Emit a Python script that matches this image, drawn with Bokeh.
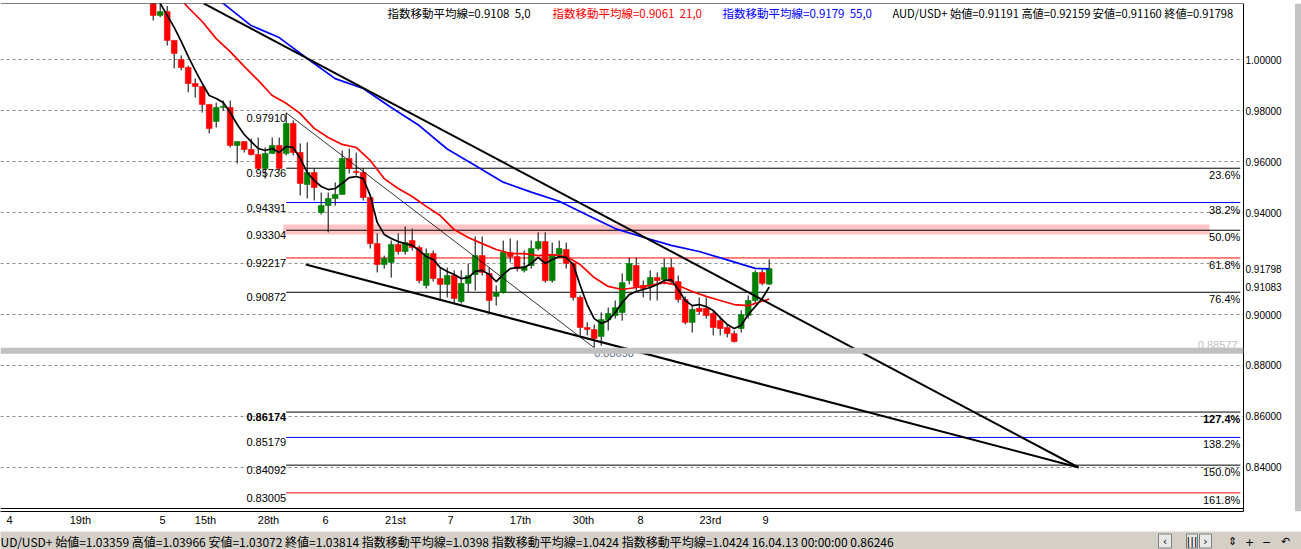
from bokeh.plotting import figure
from bokeh.models import Range1d, FixedTicker, Span, Label, ColumnDataSource, NumeralTickFormatter
from bokeh.layouts import column, row
from bokeh.embed import file_html
from bokeh.resources import INLINE
from bokeh.core.properties import value

# ---------------- data ----------------
slots = list(range(89))
opens = [1.0230, 1.0173, 1.0188, 1.0075, 1.0000, 0.9969, 0.9906, 0.9894, 0.9824, 0.9757,
         0.9812, 0.9812, 0.9663, 0.9678, 0.9647, 0.9627, 0.9573, 0.9631, 0.9663, 0.9631,
         0.9749, 0.9635, 0.9510, 0.9557, 0.9400, 0.9427, 0.9455, 0.9471, 0.9612, 0.9561,
         0.9557, 0.9459, 0.9278, 0.9196, 0.9204, 0.9275, 0.9247, 0.9290, 0.9263, 0.9114,
         0.9239, 0.9141, 0.9118, 0.9153, 0.9051, 0.9122, 0.9157, 0.9231, 0.9161, 0.9071,
         0.9086, 0.9243, 0.9227, 0.9173, 0.9192, 0.9259, 0.9286, 0.9133, 0.9235, 0.9255,
         0.9200, 0.9067, 0.8949, 0.8941, 0.8914, 0.8980, 0.8996, 0.9008, 0.9133, 0.9192,
         0.9114, 0.9110, 0.9145, 0.9137, 0.9184, 0.9129, 0.9059, 0.8969, 0.9024, 0.9024,
         0.9004, 0.8976, 0.8949, 0.8925, 0.8945, 0.8996, 0.9055, 0.9165, 0.91191]
highs = [1.0260, 1.0240, 1.0210, 1.0075, 1.0016, 0.9976, 0.9926, 0.9894, 0.9824, 0.9831,
         0.9839, 0.9839, 0.9678, 0.9678, 0.9690, 0.9694, 0.9655, 0.9694, 0.9694, 0.9791,
         0.9761, 0.9671, 0.9675, 0.9573, 0.9478, 0.9478, 0.9518, 0.9643, 0.9651, 0.9635,
         0.9573, 0.9459, 0.9318, 0.9231, 0.9290, 0.9318, 0.9345, 0.9337, 0.9271, 0.9259,
         0.9251, 0.9184, 0.9184, 0.9173, 0.9173, 0.9200, 0.9306, 0.9306, 0.9184, 0.9114,
         0.9290, 0.9298, 0.9290, 0.9251, 0.9290, 0.9322, 0.9322, 0.9282, 0.9290, 0.9282,
         0.9204, 0.9075, 0.8969, 0.8961, 0.9008, 0.9027, 0.9055, 0.9161, 0.9223, 0.9223,
         0.9133, 0.9173, 0.9165, 0.9220, 0.9220, 0.9153, 0.9071, 0.9035, 0.9067, 0.9067,
         0.9016, 0.8992, 0.8961, 0.8937, 0.9016, 0.9075, 0.9173, 0.9180, 0.92159]
lows = [1.0153, 1.0166, 1.0055, 0.9965, 0.9957, 0.9871, 0.9851, 0.9792, 0.9710, 0.9733,
        0.9800, 0.9655, 0.9592, 0.9635, 0.9624, 0.9565, 0.9533, 0.9631, 0.9565, 0.9624,
        0.9624, 0.9467, 0.9455, 0.9447, 0.9392, 0.9322, 0.9427, 0.9471, 0.9553, 0.9545,
        0.9447, 0.9259, 0.9165, 0.9180, 0.9145, 0.9235, 0.9235, 0.9251, 0.9122, 0.9102,
        0.9129, 0.9055, 0.9067, 0.9043, 0.9043, 0.9086, 0.9094, 0.9153, 0.9004, 0.9035,
        0.9082, 0.9204, 0.9169, 0.9165, 0.9180, 0.9251, 0.9125, 0.9125, 0.9227, 0.9180,
        0.9055, 0.8918, 0.8918, 0.88698, 0.8878, 0.8937, 0.8984, 0.8976, 0.9118, 0.9094,
        0.9067, 0.9055, 0.9055, 0.9118, 0.9118, 0.9047, 0.8961, 0.8929, 0.9000, 0.8984,
        0.8918, 0.8918, 0.8910, 0.8890, 0.8929, 0.8984, 0.9043, 0.9114, 0.91160]
closes = [1.0173, 1.0188, 1.0075, 1.0024, 0.9969, 0.9906, 0.9894, 0.9824, 0.9729, 0.9812,
          0.9816, 0.9663, 0.9678, 0.9647, 0.9627, 0.9573, 0.9631, 0.9663, 0.9573, 0.9749,
          0.9635, 0.9514, 0.9557, 0.9498, 0.9427, 0.9455, 0.9471, 0.9612, 0.9573, 0.9557,
          0.9459, 0.9278, 0.9196, 0.9220, 0.9275, 0.9247, 0.9282, 0.9263, 0.9133, 0.9239,
          0.9141, 0.9118, 0.9153, 0.9063, 0.9122, 0.9153, 0.9231, 0.9165, 0.9055, 0.9086,
          0.9243, 0.9227, 0.9180, 0.9188, 0.9259, 0.9286, 0.9133, 0.9235, 0.9259, 0.9200,
          0.9067, 0.8949, 0.8941, 0.8906, 0.8980, 0.9004, 0.9027, 0.9125, 0.9200, 0.9110,
          0.9102, 0.9145, 0.9133, 0.9184, 0.9129, 0.9059, 0.8969, 0.9020, 0.9012, 0.8996,
          0.8949, 0.8945, 0.8925, 0.8894, 0.9000, 0.9055, 0.9165, 0.9122, 0.91798]

ema5_slots = list(range(1, 89))
ema5 = [1.0220, 1.0173, 1.0126, 1.0071, 1.0012, 0.9957, 0.9906, 0.9859, 0.9847, 0.9831,
        0.9792, 0.9745, 0.9706, 0.9678, 0.9651, 0.9643, 0.9651, 0.9635, 0.9659, 0.9655,
        0.9612, 0.9557, 0.9526, 0.9502, 0.9490, 0.9494, 0.9514, 0.9537, 0.9541, 0.9533,
        0.9467, 0.9361, 0.9314, 0.9298, 0.9286, 0.9278, 0.9271, 0.9251, 0.9227, 0.9216,
        0.9184, 0.9169, 0.9157, 0.9141, 0.9145, 0.9169, 0.9173, 0.9157, 0.9129, 0.9157,
        0.9180, 0.9184, 0.9184, 0.9200, 0.9224, 0.9200, 0.9216, 0.9227, 0.9224, 0.9196,
        0.9114, 0.9039, 0.8984, 0.8965, 0.8976, 0.9008, 0.9047, 0.9078, 0.9090, 0.9098,
        0.9106, 0.9118, 0.9133, 0.9137, 0.9098, 0.9055, 0.9035, 0.9039, 0.9031, 0.9016,
        0.8988, 0.8961, 0.8945, 0.8957, 0.9000, 0.9031, 0.9063, 0.9108]

ema21_slots = [4, 5, 7, 9, 11, 13, 15, 17, 19, 21, 23, 25, 27, 29, 31, 33, 35, 37, 39, 41, 43,
               45, 47, 49, 51, 53, 55, 57, 59, 61, 63, 65, 67, 69, 71, 73, 75, 77, 79, 81, 83,
               85, 86, 88]
ema21 = [1.0235, 1.0204, 1.0149, 1.0082, 1.0031, 0.9973, 0.9918, 0.9859, 0.9828, 0.9788,
         0.9730, 0.9694, 0.9667, 0.9655, 0.9604, 0.9533, 0.9494, 0.9463, 0.9424, 0.9388,
         0.9333, 0.9302, 0.9278, 0.9255, 0.9239, 0.9239, 0.9231, 0.9235, 0.9227, 0.9196,
         0.9145, 0.9110, 0.9098, 0.9106, 0.9114, 0.9125, 0.9114, 0.9090, 0.9071, 0.9055,
         0.9039, 0.9035, 0.9043, 0.9061]

ema55_slots = [9, 10, 14, 18, 22, 26, 30, 34, 38, 42, 46, 50, 54, 58, 62, 66, 70, 74, 78, 82, 86, 88]
ema55 = [1.0235, 1.0220, 1.0133, 1.0086, 1.0004, 0.9925, 0.9886, 0.9812, 0.9741, 0.9649,
         0.9584, 0.9519, 0.9480, 0.9444, 0.9390, 0.9337, 0.9303, 0.9271, 0.9247, 0.9214,
         0.9181, 0.9179]

trend_upper_x = [7.2, 132.2]
trend_upper_y = [1.0220, 0.8400]
trend_lower_x = [21.8, 132.2]
trend_lower_y = [0.9196, 0.8400]

fib_anchor_x = [19, 63]
fib_anchor_y = [0.97910, 0.88698]
fib_end_x = 155.3
fib_values = [0.95736, 0.94391, 0.93304, 0.92217, 0.90872, 0.86174, 0.85179, 0.84092, 0.83005]
fib_pcts = ["23.6%", "38.2%", "50.0%", "61.8%", "76.4%", "127.4%", "138.2%", "150.0%", "161.8%"]

zone_x = [18.6, 150.9]
zone_y = [0.9314, 0.9353]
support_level = 0.88577
ema5_last = 0.91083

price_ticks = [0.84, 0.86, 0.88, 0.90, 0.92, 0.94, 0.96, 0.98, 1.00]
date_tick_pos = [-20.53, -10.39, 1.33, 7.47, 16.47, 24.61, 34.61, 42.47, 52.47, 61.47, 69.61, 79.61, 87.47]
date_tick_labels = ["4", "19th", "5", "15th", "28th", "6", "21st", "7", "17th", "30th", "8", "23rd", "9"]

header_texts = ["指数移動平均線=0.9108 \u00a05,0", "指数移動平均線=0.9061 \u00a021,0",
                "指数移動平均線=0.9179 \u00a055,0",
                "AUD/USD+ 始値=0.91191 高値=0.92159 安値=0.91160 終値=0.91798"]
status_text = ("UD/USD+ 始値=1.03359 高値=1.03966 安値=1.03072 終値=1.03814 "
               "指数移動平均線=1.0398 指数移動平均線=1.0424 指数移動平均線=1.0424 "
               "16.04.13 00:00:00 0.86246")

# ---------------- styles ----------------
UP, DOWN = "#008000", "#ff0000"
fib_colors = ["black", "#0000ff", "black", "#ff0000", "black", "black", "#0000ff", "black", "#ff0000"]
fib_styles = ["normal"] * 5 + ["bold"] + ["normal"] * 3
NUMF = "Liberation Sans"
CJKF = "Noto Sans CJK JP"

X0, X1 = -21.814, 155.757
Y0, Y1 = 0.822745, 1.021961
PX = (Y1 - Y0) / 508.0

p = figure(width=1293, height=531, x_range=Range1d(X0, X1), y_range=Range1d(Y0, Y1),
           output_backend="svg", toolbar_location=None, y_axis_location="right",
           min_border_left=0, min_border_right=50, min_border_top=3, min_border_bottom=20,
           background_fill_color="white", border_fill_color="white", outline_line_color=None)

axis_ticks = price_ticks + [closes[-1], ema5_last]
p.yaxis.ticker = FixedTicker(ticks=axis_ticks)
p.yaxis.formatter = NumeralTickFormatter(format="0.00000")
p.yaxis.major_label_overrides = {0.92: ""}
p.yaxis.major_tick_in = 0
p.yaxis.major_tick_out = 0
p.yaxis.minor_tick_in = 0
p.yaxis.minor_tick_out = 0
p.yaxis.axis_line_color = "black"
p.yaxis.major_label_standoff = 2
p.yaxis.major_label_text_font = NUMF
p.yaxis.major_label_text_font_size = "10px"
p.yaxis.major_label_text_color = "black"

p.xaxis.ticker = FixedTicker(ticks=date_tick_pos)
p.xaxis.major_label_overrides = dict(zip(date_tick_pos, date_tick_labels))
p.xaxis.major_tick_in = 0
p.xaxis.major_tick_out = 0
p.xaxis.minor_tick_in = 0
p.xaxis.minor_tick_out = 0
p.xaxis.axis_line_color = "black"
p.xaxis.major_label_standoff = 2
p.xaxis.major_label_text_font = NUMF
p.xaxis.major_label_text_font_size = "11px"
p.xaxis.major_label_text_color = "black"

p.xgrid.visible = False
p.ygrid.ticker = FixedTicker(ticks=price_ticks)
p.ygrid.grid_line_color = "#8c8c8c"
p.ygrid.grid_line_dash = "3 3"
p.ygrid.grid_line_width = 1

# resistance zone
p.quad(left=[zone_x[0]], right=[zone_x[1]], bottom=[zone_y[0]], top=[zone_y[1]],
       fill_color="#ffc4c4", line_color=None)

# fibonacci levels
n = len(fib_values)
p.segment(x0=[fib_anchor_x[0]] * n, y0=fib_values, x1=[fib_end_x] * n, y1=fib_values,
          line_color=fib_colors, line_width=1)
left_vals = [fib_anchor_y[0]] + fib_values
p.text(x=[fib_anchor_x[0]] * len(left_vals), y=left_vals,
       text=[f"{v:.5f}" for v in left_vals], text_align="right", text_baseline="top",
       y_offset=1, text_font=value(NUMF), text_font_size="11px", text_color="black",
       text_font_style=["normal"] + fib_styles)
p.text(x=[fib_end_x] * n, y=fib_values, text=fib_pcts, text_align="right",
       text_baseline="top", y_offset=1, text_font=value(NUMF), text_font_size="11px",
       text_color="black", text_font_style=fib_styles)
p.text(x=[fib_anchor_x[1]], y=[fib_anchor_y[1]], text=[f"{fib_anchor_y[1]:.5f}"],
       text_align="left", text_baseline="top", y_offset=1, text_font=value(NUMF),
       text_font_size="11px", text_color="#5a6f8a")
p.text(x=[fib_end_x - 0.4], y=[support_level], text=[f"{support_level:.5f}"],
       text_align="right", text_baseline="bottom", y_offset=-2, text_font=value(NUMF),
       text_font_size="11px", text_color="#c0c0c0")

# candles
src = ColumnDataSource(dict(
    x=slots,
    top=[max(o, c) for o, c in zip(opens, closes)],
    bottom=[min(o, c) for o, c in zip(opens, closes)],
    high=highs, low=lows,
    color=[UP if c >= o else DOWN for o, c in zip(opens, closes)],
))
p.segment(x0="x", y0="low", x1="x", y1="high", source=src, line_color="black", line_width=1)
p.vbar(x="x", width=0.82, top="top", bottom="bottom", source=src,
       fill_color="color", line_color="color", line_width=0.6)

# moving averages
p.line(ema55_slots, ema55, line_color="#0000ff", line_width=1.7)
p.line(ema21_slots, ema21, line_color="#ff0000", line_width=1.7)
p.line(ema5_slots, ema5, line_color="black", line_width=1.7)

# trend lines
p.line(trend_upper_x, trend_upper_y, line_color="black", line_width=2)
p.line(trend_lower_x, trend_lower_y, line_color="black", line_width=2)
p.line(fib_anchor_x, fib_anchor_y, line_color="black", line_width=0.8)

# support line, frame lines
p.add_layout(Span(location=support_level, dimension="width", line_color="#c0c0c0", line_width=6))
p.add_layout(Span(location=Y1, dimension="width", line_color="black", line_width=1))
p.add_layout(Span(location=Y0 + 3 * PX, dimension="width", line_color="black", line_width=1))

# header texts
header_x = [33.47, 57.04, 81.33, 105.6]
header_colors = ["black", "#ff0000", "#0000ff", "black"]
header_sizes = ["11.5px", "11.5px", "11.5px", "11.2px"]
for hx, ht, hc, hs in zip(header_x, header_texts, header_colors, header_sizes):
    p.add_layout(Label(x=hx, y=1.01843, text=ht, text_color=hc, text_font=CJKF,
                       text_font_size=hs, text_baseline="middle", text_align="left"))

# price markers on the scale (overlay; the axis already carries the same texts)
p.add_layout(Label(x=1245, x_units="screen", y=closes[-1], text=f"{closes[-1]:.5f}",
                   level="overlay", text_baseline="middle", text_font=NUMF,
                   text_font_size="10px", text_color="#222222",
                   background_fill_color="#a8a8a8"))
p.add_layout(Label(x=1245, x_units="screen", y=ema5_last, text=f"{ema5_last:.5f}",
                   level="overlay", text_baseline="middle", text_font=NUMF,
                   text_font_size="10px", text_font_style="bold", text_color="black"))

# right-hand scroll strip
strip = figure(width=8, height=531, x_range=Range1d(0, 8), y_range=Range1d(0, 531),
               output_backend="svg", toolbar_location=None, x_axis_location=None,
               y_axis_location=None, min_border=0, background_fill_color="white",
               border_fill_color="white", outline_line_color=None)
strip.xgrid.visible = False
strip.ygrid.visible = False
strip.quad(left=[1.5], right=[8], bottom=[0], top=[531], fill_color="#c4c4c4", line_color=None)

# status bar
s = figure(width=1301, height=18, x_range=Range1d(0, 1301), y_range=Range1d(0, 18),
           output_backend="svg", toolbar_location=None, x_axis_location=None,
           y_axis_location=None, min_border=0, background_fill_color="#d4d0c8",
           border_fill_color="#d4d0c8", outline_line_color=None)
s.xgrid.visible = False
s.ygrid.visible = False
s.text(x=[0], y=[8], text=[status_text], text_baseline="middle",
       text_font=value(CJKF), text_font_size="12px", text_color="black")
s.quad(left=[1158, 1186, 1199], right=[1171, 1197, 1211], bottom=[1.5, 1.5, 1.5],
       top=[15.5, 15.5, 15.5], fill_color="#e8e8e8", line_color="#808080")
s.text(x=[1164.5, 1191.5, 1205, 1232, 1249, 1266, 1285], y=[8] * 7,
       text=["‹", "|||", "›", "⇕", "+", "−", "↶"], text_align="center",
       text_baseline="middle", text_font=value("DejaVu Sans"), text_font_size="11px",
       text_color="black")

layout = column(row(p, strip), s)
open("out.html", "w").write(file_html(layout, INLINE))
